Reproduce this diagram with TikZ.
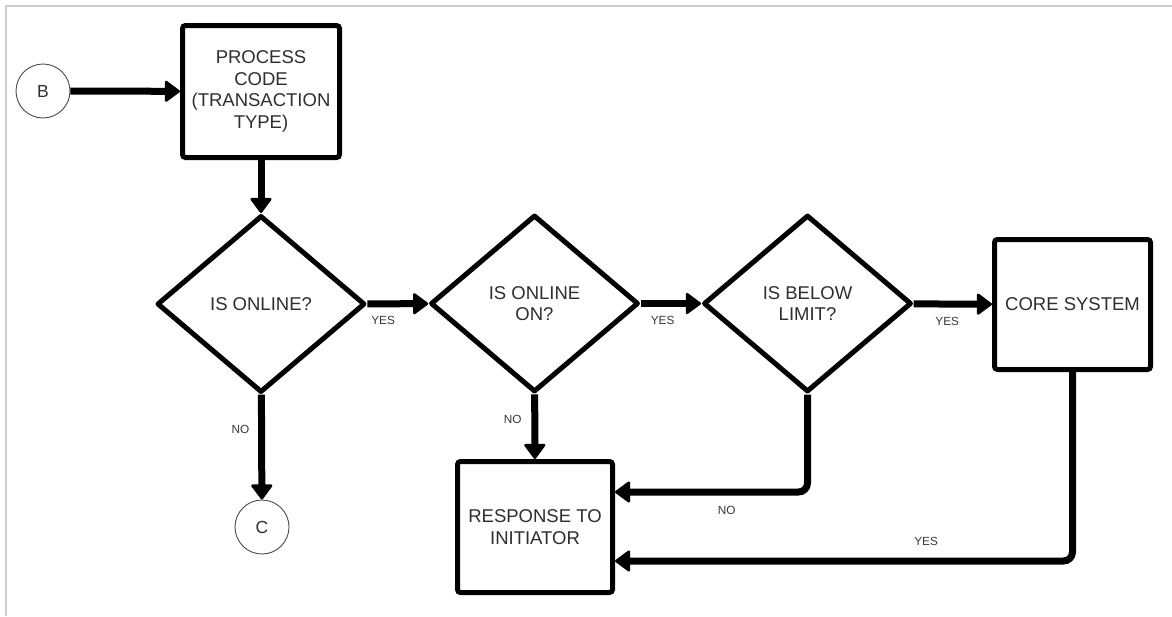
\documentclass[tikz,border=0pt]{standalone}
\usepackage{fontspec}
\setmainfont{Liberation Sans}
\usetikzlibrary{shapes.geometric,arrows.meta}

\begin{document}
\begin{tikzpicture}[x=1pt,y=-1pt,
  every node/.style={text=black!82},
  stepbox/.style={draw=black, rectangle, line width=5pt, rounded corners=3pt,
    align=center, fill=white, font=\fontsize{18.5}{21.7}\selectfont},
  decision/.style={draw=black, diamond, line width=5pt, line join=round,
    inner sep=0pt, minimum width=208pt, minimum height=177pt,
    align=center, fill=white, font=\fontsize{18.5}{21.7}\selectfont},
  connector/.style={circle, draw=black!70, line width=0.9pt, minimum size=54pt,
    inner sep=0pt, font=\fontsize{17.5}{20}\selectfont},
  flow/.style={draw=black, line width=7pt, rounded corners=9pt,
    -{Triangle[length=16pt,width=23pt,round,line width=2.5pt]}},
  tag/.style={font=\fontsize{11.8}{13}\selectfont, text=black!78, inner sep=1pt}
]
\useasboundingbox (0,0) rectangle (1172,616);
\fill[white] (0,0) rectangle (1172,616);

% page frame (top and left rules only)
\draw[black!20, line width=2pt] (6,616) -- (6,5.5) -- (1172,5.5);

% nodes
\node[connector] (B) at (43,91) {B};
\node[stepbox, minimum width=157pt, minimum height=132pt] (proc) at (261,91.5)
  {PROCESS\\CODE\\(TRANSACTION\\TYPE)};
\node[decision] (d1) at (261,304) {IS ONLINE?};
\node[decision] (d2) at (534.5,303.5) {IS ONLINE\\ON?};
\node[decision] (d3) at (807.5,303.5) {IS BELOW\\LIMIT?};
\node[stepbox, minimum width=156pt, minimum height=130pt] (core) at (1072.5,304.5)
  {CORE SYSTEM};
\node[stepbox, minimum width=155pt, minimum height=131pt] (resp) at (535,527)
  {RESPONSE TO\\INITIATOR};
\node[connector] (C) at (262,527) {C};

% connectors
\draw[flow] (B) -- (proc);
\draw[flow] (proc) -- (d1);
\draw[flow] (d1) -- node[tag, pos=0.26, yshift=-17pt] {YES} (d2);
\draw[flow] (d2) -- node[tag, pos=0.36, yshift=-17pt] {YES} (d3);
\draw[flow] (d3) -- node[tag, pos=0.43, yshift=-17pt] {YES} (core);
\draw[flow] (d1) -- node[tag, pos=0.33, xshift=-21pt] {NO} (C);
\draw[flow] (d2) -- node[tag, pos=0.39, xshift=-22pt] {NO} (resp);
\draw[flow] (d3.south) |- node[tag, pos=0.71, yshift=-18pt] {NO}
  ([yshift=35pt]resp.east);
\draw[flow] (core.south) |- node[tag, pos=0.66, yshift=20pt] {YES}
  ([yshift=-34pt]resp.east);
\end{tikzpicture}
\end{document}
